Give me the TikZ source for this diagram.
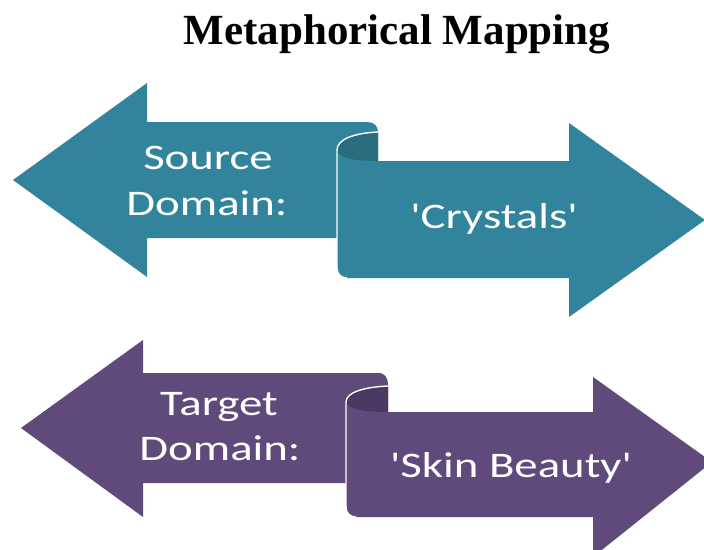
\documentclass[tikz,border=0pt]{standalone}
\usepackage{fontspec}
\setmainfont{Liberation Serif}
\newfontfamily\lblfont[FakeStretch=1.3]{Carlito}
\definecolor{tealmain}{HTML}{31849B}
\definecolor{tealdark}{HTML}{286C7D}
\definecolor{purpmain}{HTML}{604A7B}
\definecolor{purpdark}{HTML}{4A3962}
\tikzset{
  lbl/.style={text=white, font=\lblfont\fontsize{36}{40}\selectfont, anchor=base, inner sep=0pt},
  rollline/.style={draw=white, line width=1.4pt},
  ttl/.style={font=\bfseries\fontsize{43}{47}\selectfont, anchor=base, inner sep=0pt}
}
\begin{document}
\begin{tikzpicture}[x=1pt,y=-1pt]
\clip (0,0) rectangle (704,549);
\fill[white] (0,0) rectangle (704,549);

\node[ttl] (title) at (397,44) {Metaphorical Mapping};

% ---------- top pair (teal) ----------
\fill[tealmain] (13,180) -- (147,83) -- (147,122) -- (367,122)
  .. controls (374,122) and (378,126) .. (378,132) -- (378,238)
  -- (147,238) -- (147,277) -- cycle;
\fill[tealdark] (378,132) .. controls (355,133) and (337,139) .. (337,150)
  .. controls (339,158) and (350,161) .. (378,161) -- cycle;
\fill[tealmain] (337,150) .. controls (339,158) and (350,161) .. (378,161)
  -- (569,161) -- (569,123) -- (705,220) -- (569,317) -- (569,278)
  -- (347,278) .. controls (341,278) and (337,274) .. (337,268) -- cycle;
\draw[rollline] (378,132) .. controls (355,133) and (337,139) .. (337,150)
  -- (337,268) .. controls (337,274) and (341,278) .. (347,278);

\node[lbl] (src1) at (208,169) {Source};
\node[lbl] (src2) at (207,215) {Domain:};
\node[lbl] (srcv) at (494,228) {'Crystals'};

% ---------- bottom pair (purple) ----------
\fill[purpmain] (21,428) -- (143,340) -- (143,373) -- (378,373)
  .. controls (385,373) and (388,377) .. (388,386) -- (388,483)
  -- (143,483) -- (143,517) -- cycle;
\fill[purpdark] (388,386) .. controls (365,387) and (346,392) .. (346,402)
  .. controls (348,409) and (360,412) .. (388,412) -- cycle;
\fill[purpmain] (346,402) .. controls (348,409) and (360,412) .. (388,412)
  -- (593,412) -- (593,377) -- (712,462) -- (593,557) -- (593,517)
  -- (356,517) .. controls (350,517) and (346,513) .. (346,507) -- cycle;
\draw[rollline] (388,386) .. controls (365,387) and (346,392) .. (346,402)
  -- (346,507) .. controls (346,513) and (350,517) .. (356,517);

\node[lbl] (tgt1) at (219,415) {Target};
\node[lbl] (tgt2) at (220,460) {Domain:};
\node[lbl] (tgtv) at (511,477) {'Skin Beauty'};
\end{tikzpicture}
\end{document}
